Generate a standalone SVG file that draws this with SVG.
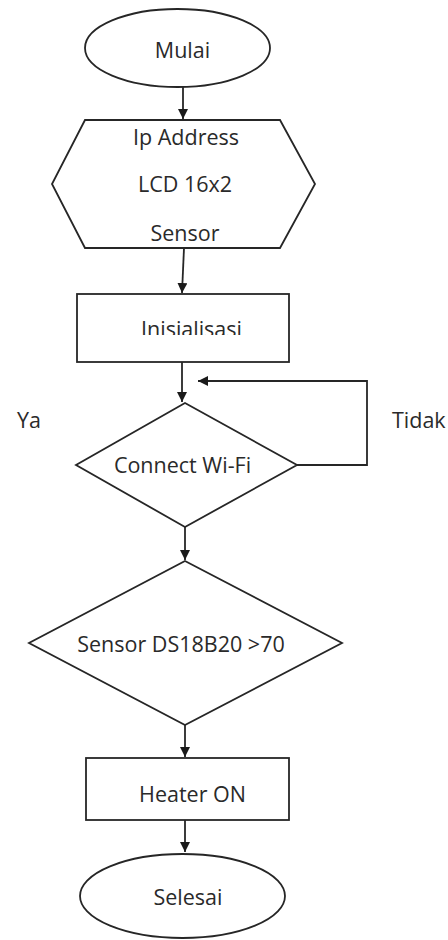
<svg xmlns="http://www.w3.org/2000/svg" width="448" height="940" viewBox="0 0 448 940">
<style>
.s{fill:#fff;stroke:#262626;stroke-width:1.8}
.c{fill:none;stroke:#262626;stroke-width:1.8}
text{font-family:"Open Sans","Noto Sans","Liberation Sans",sans-serif;font-size:21.5px;fill:#2a2a2a;text-anchor:middle}
</style>
<defs>
<marker id="ah" markerUnits="userSpaceOnUse" markerWidth="11" markerHeight="11" refX="10" refY="5" orient="auto">
<path d="M0,0 L10,5 L0,10 z" fill="#1a1a1a"/>
</marker>
<clipPath id="clipInit"><rect x="77" y="294" width="212" height="41"/></clipPath>
</defs>
<rect width="448" height="940" fill="#fff"/>
<g id="connectors">
<line class="c" x1="183" y1="87" x2="183" y2="119" marker-end="url(#ah)"/>
<line class="c" x1="184" y1="248" x2="182" y2="293" marker-end="url(#ah)"/>
<line class="c" x1="182" y1="362" x2="182" y2="402" marker-end="url(#ah)"/>
<line class="c" x1="185" y1="527" x2="185" y2="560" marker-end="url(#ah)"/>
<line class="c" x1="185" y1="725" x2="185" y2="757" marker-end="url(#ah)"/>
<line class="c" x1="185" y1="820" x2="185" y2="852" marker-end="url(#ah)"/>
<polyline class="c" points="297,465 367,465 367,381 198,381" marker-end="url(#ah)"/>
</g>
<g id="mulai">
<ellipse class="s" cx="177.5" cy="48" rx="92.5" ry="39"/>
<text x="182.5" y="58">Mulai</text>
</g>
<g id="input">
<polygon class="s" points="85,120 280,120 315,184 280,248 85,248 52,184"/>
<text x="186" y="145">Ip Address</text>
<text x="185" y="192">LCD 16x2</text>
<text x="185" y="241">Sensor</text>
</g>
<g id="inisialisasi">
<rect class="s" x="77" y="294" width="212" height="68"/>
<text x="191.5" y="337" clip-path="url(#clipInit)">Inisialisasi</text>
</g>
<g id="wifi">
<polygon class="s" points="185,403 297,465 185,527 76,465"/>
<text x="182.5" y="473">Connect Wi-Fi</text>
</g>
<g id="labels">
<text x="17" y="428" style="text-anchor:start">Ya</text>
<text x="392" y="428" style="text-anchor:start">Tidak</text>
</g>
<g id="sensor">
<polygon class="s" points="185,561 342,643 185,725 29,643"/>
<text x="181" y="652">Sensor DS18B20 &gt;70</text>
</g>
<g id="heater">
<rect class="s" x="86" y="758" width="203" height="62"/>
<text x="192.5" y="802">Heater ON</text>
</g>
<g id="selesai">
<ellipse class="s" cx="182.5" cy="896" rx="102.5" ry="42"/>
<text x="188" y="905">Selesai</text>
</g>
</svg>
